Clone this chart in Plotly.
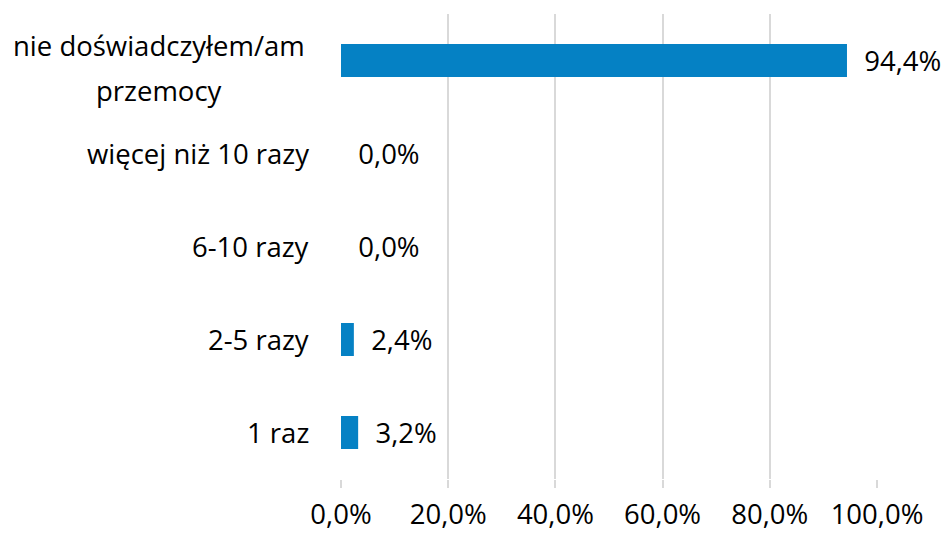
import plotly.graph_objects as go

# Categories bottom-to-top, as they appear on the chart
categories = ["1 raz", "2-5 razy", "6-10 razy", "więcej niż 10 razy",
              "nie doświadczyłem/am<br>przemocy"]
values = [3.2, 2.4, 0.0, 0.0, 94.4]
x_ticks = [0, 20, 40, 60, 80, 100]


def pct(v):
    return f"{v:.1f}".replace(".", ",") + "%"


font_family = "Open Sans, Liberation Sans, sans-serif"
font_size = 27.5
bar_color = "#0581C4"
grid_color = "#D9D9D9"

fig = go.Figure(go.Bar(
    x=values,
    y=categories,
    orientation="h",
    marker=dict(color=bar_color, line=dict(width=0)),
    text=["  " + pct(v) for v in values],
    textposition="outside",
    constraintext="none",
    textfont=dict(size=font_size, color="#000000", family=font_family),
    cliponaxis=False,
))

# category labels as annotations (centred lines, Excel-like spacing)
for cat in categories:
    lines = cat.split("<br>")
    shifts = [0] if len(lines) == 1 else [15, -30]
    for line, shift in zip(lines, shifts):
        fig.add_annotation(
            x=0, xref="paper", y=cat, yref="y",
            text=line, showarrow=False, xanchor="right" if len(lines) == 1 else "center",
            xshift=-30 if len(lines) == 1 else -182, yshift=shift,
            font=dict(size=font_size, color="#000000", family=font_family),
        )

fig.update_layout(
    width=946, height=533,
    margin=dict(l=341, r=69, t=14, b=54),
    plot_bgcolor="white", paper_bgcolor="white",
    separators=", ",
    bargap=0.645,
    showlegend=False,
    font=dict(family=font_family, size=font_size, color="#000000"),
)
fig.update_xaxes(
    range=[0, 100], tickvals=x_ticks, ticktext=[pct(t) for t in x_ticks],
    showgrid=True, gridcolor=grid_color, gridwidth=1.5,
    zeroline=False, showline=False,
    ticks="outside", ticklen=8, tickcolor=grid_color, tickwidth=1.5,
    ticklabelstandoff=3, automargin=False,
    tickfont=dict(size=font_size, color="#000000"),
)
fig.update_yaxes(
    showticklabels=False, showgrid=False, zeroline=False, showline=False,
    automargin=False,
)

# drop the browser's default 8px body margin so the figure fills the window
fig.write_html("out.html", config={"displayModeBar": False},
               post_script="document.body.style.margin='0px';")
